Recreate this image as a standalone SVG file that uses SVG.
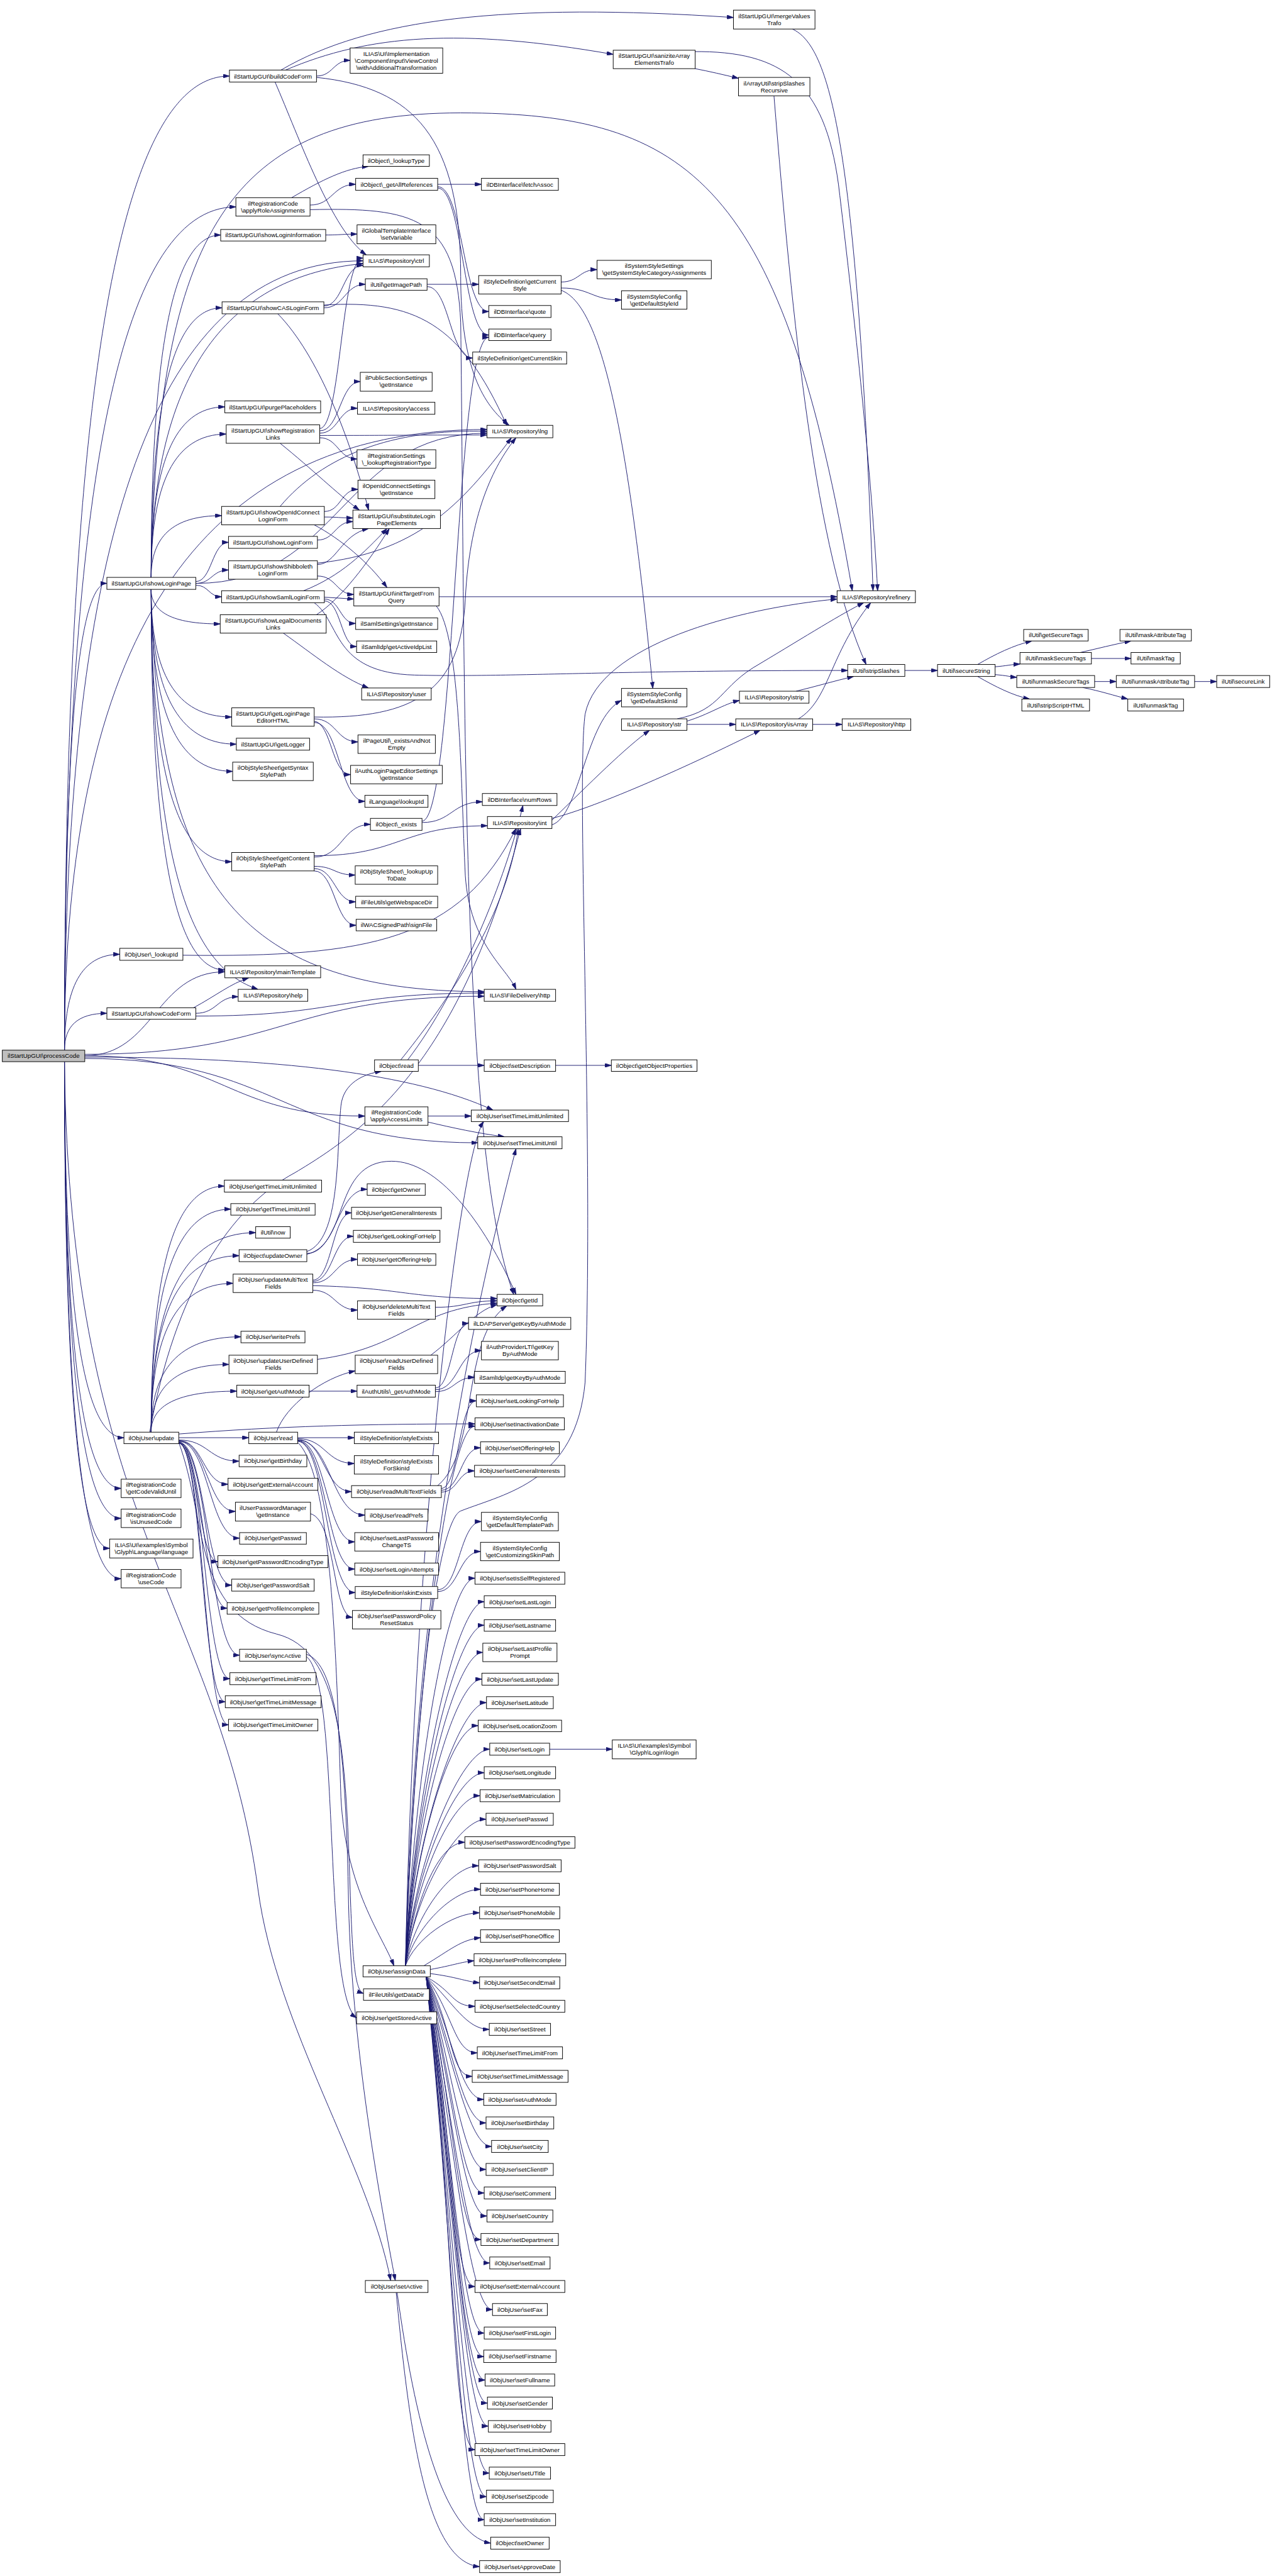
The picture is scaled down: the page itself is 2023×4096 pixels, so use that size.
<svg xmlns="http://www.w3.org/2000/svg" width="2023" height="4096" viewBox="0 0 2023 4096">
<style>
.node rect{fill:#ffffff;stroke:#000000;stroke-width:1.3}
.node rect.root{fill:#bfbfbf}
.node text{font-family:"Liberation Sans",Arial,Helvetica,sans-serif;font-size:13.3px;fill:#000000;text-anchor:middle}
.edges path{fill:none;stroke:#191970;stroke-width:1.3;marker-end:url(#ah)}
</style>
<defs>
<marker id="ah" viewBox="0 0 14 9" refX="14" refY="4.5" markerWidth="14" markerHeight="9" markerUnits="userSpaceOnUse" orient="auto"><path d="M0,0 L14,4.5 L0,9 z" fill="#191970" stroke="#191970" stroke-width="1"/></marker>
</defs>
<rect x="0" y="0" width="2023" height="4096" fill="#ffffff"/>
<g transform="scale(0.7327)">
<g id="edges" class="edges">
<!-- processCode -->
<path d="M140,2279 C140,1621 168,1266 232,1266"/>
<path d="M140,2279 C140,2144 176,2071 260,2071"/>
<path d="M140,2279 C140,2227 168,2199 232,2199"/>
<path d="M140,2304 C140,2834 179,3120 269,3120"/>
<path d="M140,2304 C140,2906 177,3230 263,3230"/>
<path d="M140,2304 C140,2948 177,3295 263,3295"/>
<path d="M140,2304 C140,2990 169,3360 238,3360"/>
<path d="M140,2304 C140,3033 177,3426 263,3426"/>
<path d="M140,2279 C140,905 247,165 498,165"/>
<path d="M140,2279 C140,1089 252,449 512,449"/>
<path d="M184,2291 C488,2291 488,2422 792,2422"/>
<path d="M140,2279 C140,1166 334,566 788,566"/>
<path d="M140,2279 C140,1407 415,932 1057,932"/>
<path d="M184,2291 C336,2291 336,2109 488,2109"/>
<path d="M184,2288 C617,2288 617,2162 1051,2162"/>
<path d="M184,2294 C600,2294 900,2330 1070,2409"/>
<path d="M184,2297 C610,2297 610,2480 1037,2480"/>
<path d="M140,2304 C150,3300 480,3500 560,4100 C600,4400 800,4700 848,4949"/>
<!-- showCodeForm -->
<path d="M420,2187 C470,2160 500,2135 540,2122"/>
<path d="M425,2199 C471,2199 471,2163 517,2163"/>
<path d="M425,2205 C738,2205 738,2155 1051,2155"/>
<!-- showLoginPage -->
<path d="M328,1253 C328,770 373,510 479,510"/>
<path d="M328,1253 C328,873 374,668 482,668"/>
<path d="M328,1253 C328,1013 376,883 488,883"/>
<path d="M328,1253 C328,1051 377,942 491,942"/>
<path d="M328,1253 C328,1166 374,1119 481,1119"/>
<path d="M425,1262 C460,1262 460,1177 496,1177"/>
<path d="M425,1266 C460,1266 460,1237 496,1237"/>
<path d="M425,1270 C453,1270 453,1295 481,1295"/>
<path d="M328,1279 C328,1328 373,1354 478,1354"/>
<path d="M328,1279 C328,1459 380,1556 503,1556"/>
<path d="M328,1279 C328,1497 384,1615 513,1615"/>
<path d="M328,1279 C328,1536 381,1674 505,1674"/>
<path d="M328,1279 C328,1663 380,1870 503,1870"/>
<path d="M328,1279 C328,1818 376,2105 488,2105"/>
<path d="M328,1279 C330,1900 420,2100 560,2147"/>
<path d="M328,1279 C340,1900 500,2152 1051,2152"/>
<path d="M328,1253 C330,800 500,600 788,572"/>
<path d="M328,1253 C340,500 500,245 1000,245 C1500,245 1700,400 1850,1282"/>
<path d="M425,1266 C741,1266 741,940 1057,940"/>
<!-- buildCodeForm -->
<path d="M687,165 C723,165 723,131 760,131"/>
<path d="M610,152 C800,40 1100,5 1592,38"/>
<path d="M620,152 C800,75 1000,60 1331,118"/>
<path d="M597,178 C650,300 720,500 795,553"/>
<path d="M687,168 C900,190 1000,300 1000,600 C1000,800 1050,880 1105,923"/>
<!-- trafos -->
<path d="M1720,63 C1800,100 1860,300 1895,1282"/>
<path d="M1509,149 C1540,155 1570,162 1603,170"/>
<path d="M1505,112 C1700,110 1790,180 1820,400 C1850,650 1890,1000 1905,1282"/>
<path d="M1680,208 C1720,700 1770,1200 1880,1442"/>
<!-- applyRoleAssignments -->
<path d="M633,429 C700,390 750,365 800,361"/>
<path d="M673,445 C722,445 722,400 772,400"/>
<path d="M673,455 C900,450 990,470 1000,700 C1010,1500 1000,2500 1115,2809"/>
<!-- _getAllReferences -->
<path d="M950,400 L1045,400"/>
<path d="M950,405 C1005,405 1005,676 1061,676"/>
<path d="M950,408 C1005,408 1005,727 1061,727"/>
<!-- showLoginInformation -->
<path d="M707,510 C740,510 740,508 775,508"/>
<!-- showCASLoginForm -->
<path d="M703,664 C745,664 745,576 788,576"/>
<path d="M703,668 C748,668 748,617 793,617"/>
<path d="M703,662 C900,650 1000,700 1100,923"/>
<path d="M603,681 C690,770 760,950 800,1107"/>
<!-- getImagePath -->
<path d="M927,617 L1039,617"/>
<path d="M927,622 C976,622 976,777 1026,777"/>
<!-- getCurrentStyle -->
<path d="M1218,612 C1257,612 1257,585 1296,585"/>
<path d="M1218,625 C1283,625 1283,651 1349,651"/>
<path d="M1218,630 C1300,660 1360,900 1417,1494"/>
<!-- showRegistrationLinks -->
<path d="M694,935 C738,935 738,828 782,828"/>
<path d="M694,940 C735,940 735,886 776,886"/>
<path d="M694,950 C734,950 734,996 775,996"/>
<path d="M694,930 C740,930 740,560 788,560"/>
<path d="M694,945 C876,945 876,944 1057,944"/>
<path d="M608,962 C680,1020 730,1070 780,1107"/>
<!-- showOpenIdConnectLoginForm -->
<path d="M704,1110 C740,1110 740,1062 777,1062"/>
<path d="M704,1122 C735,1122 735,1124 766,1124"/>
<path d="M682,1139 C740,1170 800,1220 840,1275"/>
<path d="M608,1099 C700,990 850,930 1057,936"/>
<!-- showLoginForm -->
<path d="M689,1172 C727,1172 727,1132 766,1132"/>
<!-- showShibbolethLoginForm -->
<path d="M689,1225 C730,1225 740,1160 800,1147"/>
<path d="M689,1250 C730,1250 730,1290 768,1290"/>
<path d="M689,1222 C900,1200 1000,1100 1110,950"/>
<!-- showSamlLoginForm -->
<path d="M704,1296 L768,1300"/>
<path d="M659,1282 C740,1250 790,1200 840,1147"/>
<path d="M704,1300 C738,1300 738,1353 772,1353"/>
<path d="M704,1304 C740,1304 740,1403 774,1403"/>
<path d="M682,1308 C740,1350 720,1460 900,1465 C1100,1470 1300,1455 1840,1455"/>
<!-- showLegalDocumentsLinks -->
<path d="M687,1334 C740,1300 800,1220 845,1147"/>
<path d="M615,1374 C680,1420 740,1470 800,1493"/>
<!-- initTargetFromQuery -->
<path d="M953,1295 L1817,1295"/>
<path d="M947,1315 C1000,1380 1000,1700 1010,1900 C1020,2050 1100,2100 1120,2147"/>
<!-- getLoginPageEditorHTML -->
<path d="M682,1560 C730,1560 730,1610 777,1610"/>
<path d="M682,1565 C720,1570 720,1681 761,1681"/>
<path d="M682,1568 C737,1568 737,1739 792,1739"/>
<path d="M682,1556 C900,1560 1000,1500 1010,1300 C1020,1100 1080,1000 1120,950"/>
<!-- getContentStylePath -->
<path d="M682,1860 C743,1860 743,1789 804,1789"/>
<path d="M682,1880 C726,1880 726,1899 771,1899"/>
<path d="M682,1885 C727,1885 727,1957 772,1957"/>
<path d="M682,1890 C727,1890 727,2008 773,2008"/>
<path d="M682,1857 C870,1857 870,1792 1058,1792"/>
<!-- _exists -->
<path d="M916,1785 C981,1785 981,1740 1047,1740"/>
<path d="M916,1782 C988,1782 988,732 1061,732"/>
<!-- _lookupId -->
<path d="M397,2073 C800,2078 1000,2040 1120,1798"/>
<!-- ilObject read -->
<path d="M908,2312 L1051,2312"/>
<path d="M870,2300 C950,2200 1100,2000 1125,1798"/>
<path d="M885,2300 C1000,2150 1100,1900 1135,1748"/>
<path d="M1206,2312 L1327,2312"/>
<!-- applyAccessLimits -->
<path d="M929,2422 L1023,2422"/>
<path d="M929,2435 C980,2447 1040,2460 1095,2467"/>
<!-- update -->
<path d="M328,3108 C328,2761 376,2574 487,2574"/>
<path d="M328,3108 C328,2793 380,2624 501,2624"/>
<path d="M328,3108 C328,2827 396,2675 555,2675"/>
<path d="M328,3108 C328,2859 385,2725 519,2725"/>
<path d="M328,3108 C328,2898 381,2785 506,2785"/>
<path d="M328,3108 C328,2973 387,2901 523,2901"/>
<path d="M328,3108 C328,3012 379,2961 497,2961"/>
<path d="M328,3108 C328,3050 384,3019 514,3019"/>
<path d="M388,3120 L540,3120"/>
<path d="M388,3125 C453,3125 453,3171 519,3171"/>
<path d="M388,3126 C441,3126 441,3221 495,3221"/>
<path d="M388,3127 C450,3127 450,3280 511,3280"/>
<path d="M388,3128 C454,3128 454,3338 520,3338"/>
<path d="M388,3129 C430,3129 430,3389 473,3389"/>
<path d="M388,3130 C445,3130 445,3440 503,3440"/>
<path d="M388,3131 C440,3131 440,3490 493,3490"/>
<path d="M388,3132 C454,3132 454,3592 520,3592"/>
<path d="M388,3132 C443,3132 443,3643 499,3643"/>
<path d="M388,3132 C438,3132 438,3693 489,3693"/>
<path d="M388,3132 C442,3132 442,3743 496,3743"/>
<path d="M325,3108 C380,2800 500,2620 640,2545 C800,2450 1000,2300 1130,1798"/>
<path d="M388,3130 C450,3300 420,3500 600,3546 C740,3580 750,3800 760,4100 C765,4250 770,4320 789,4326"/>
<path d="M388,3112 C600,3095 800,3090 1031,3090"/>
<!-- updateOwner -->
<path d="M666,2720 C731,2720 731,2581 797,2581"/>
<path d="M666,2722 C760,2700 720,2520 850,2520 C950,2520 1050,2650 1120,2809"/>
<path d="M666,2716 C740,2690 730,2500 740,2400 C745,2350 790,2330 828,2325"/>
<!-- updateMultiTextFields -->
<path d="M679,2778 C721,2778 721,2632 763,2632"/>
<path d="M679,2781 C723,2781 723,2683 767,2683"/>
<path d="M679,2784 C727,2784 727,2733 776,2733"/>
<path d="M679,2800 C727,2800 727,2843 776,2843"/>
<path d="M679,2790 C880,2795 880,2818 1079,2818"/>
<path d="M945,2837 C1012,2837 1012,2823 1079,2823"/>
<path d="M689,2950 C880,2925 900,2840 1079,2828"/>
<path d="M935,2941 C990,2900 1030,2845 1079,2831"/>
<!-- auth mode -->
<path d="M671,3019 L775,3019"/>
<path d="M945,3012 C981,3012 981,2872 1017,2872"/>
<path d="M945,3016 C995,3016 995,2931 1045,2931"/>
<path d="M945,3020 C987,3020 987,2989 1030,2989"/>
<!-- ilObjUser read -->
<path d="M646,3120 L769,3120"/>
<path d="M646,3122 C707,3122 707,3176 769,3176"/>
<path d="M646,3124 C704,3124 704,3237 763,3237"/>
<path d="M646,3125 C719,3125 719,3288 792,3288"/>
<path d="M646,3126 C708,3126 708,3346 770,3346"/>
<path d="M646,3127 C708,3127 708,3405 770,3405"/>
<path d="M646,3128 C708,3128 708,3456 771,3456"/>
<path d="M600,3108 C620,3050 700,2990 771,2975"/>
<path d="M646,3130 C720,3200 730,3600 740,3900 C750,4100 830,4200 855,4266"/>
<path d="M674,3285 C730,3300 720,3505 765,3510"/>
<!-- readMultiTextFields -->
<path d="M958,3230 C996,3230 996,3040 1034,3040"/>
<path d="M958,3234 C1000,3234 1000,3142 1043,3142"/>
<path d="M958,3238 C994,3238 994,3192 1030,3192"/>
<path d="M950,3224 C1040,3150 1000,2900 1100,2834"/>
<!-- skinExists -->
<path d="M950,3450 C997,3450 997,3302 1045,3302"/>
<path d="M950,3454 C996,3454 996,3367 1043,3367"/>
<!-- syncActive -->
<path d="M665,3595 C740,3650 700,4330 774,4379"/>
<path d="M665,3590 C730,3610 750,3800 756,4100 C760,4435 830,4800 858,4949"/>
<!-- assignData up -->
<path d="M880,4266 C900,3300 1000,2500 1050,2434"/>
<path d="M880,4266 C900,3400 1040,2800 1120,2493"/>
<path d="M880,4266 C900,3678 971,3095 1031,3095"/>
<path d="M880,4266 C900,3845 971,3425 1031,3425"/>
<path d="M880,4266 C900,3871 991,3476 1051,3476"/>
<path d="M880,4266 C900,3897 991,3527 1051,3527"/>
<path d="M880,4266 C900,3926 988,3586 1048,3586"/>
<path d="M880,4266 C900,3955 986,3644 1046,3644"/>
<path d="M880,4266 C900,3981 996,3695 1056,3695"/>
<path d="M880,4266 C900,4006 978,3745 1038,3745"/>
<path d="M880,4266 C900,4031 1003,3796 1063,3796"/>
<path d="M880,4266 C900,4057 991,3847 1051,3847"/>
<path d="M880,4266 C900,4082 982,3897 1042,3897"/>
<path d="M880,4266 C900,4107 995,3948 1055,3948"/>
<path d="M880,4266 C900,4132 949,3998 1009,3998"/>
<path d="M880,4266 C900,4158 979,4049 1039,4049"/>
<path d="M880,4266 C900,4183 983,4100 1043,4100"/>
<path d="M880,4266 C900,4209 981,4151 1041,4151"/>
<path d="M920,4266 C980,4230 1000,4210 1043,4205"/>
<path d="M934,4274 C980,4266 1000,4258 1029,4255"/>
<path d="M934,4283 C990,4290 1010,4300 1041,4303"/>
<!-- assignData down -->
<path d="M925,4290 C985,4322 981,4354 1031,4354"/>
<path d="M925,4290 C985,4347 1012,4404 1062,4404"/>
<path d="M925,4290 C985,4372 986,4455 1036,4455"/>
<path d="M925,4290 C985,4398 975,4506 1025,4506"/>
<path d="M925,4290 C985,4423 1000,4556 1050,4556"/>
<path d="M925,4290 C985,4448 1005,4607 1055,4607"/>
<path d="M925,4290 C985,4474 1017,4658 1067,4658"/>
<path d="M925,4290 C985,4499 1005,4708 1055,4708"/>
<path d="M925,4290 C985,4524 1001,4759 1051,4759"/>
<path d="M925,4290 C985,4550 1007,4809 1057,4809"/>
<path d="M925,4290 C985,4575 994,4860 1044,4860"/>
<path d="M925,4290 C985,4600 1013,4911 1063,4911"/>
<path d="M925,4290 C985,4626 981,4962 1031,4962"/>
<path d="M925,4290 C985,4651 1019,5012 1069,5012"/>
<path d="M925,4290 C985,4676 1001,5063 1051,5063"/>
<path d="M925,4290 C985,4702 1000,5114 1050,5114"/>
<path d="M925,4290 C985,4728 1003,5165 1053,5165"/>
<path d="M925,4290 C985,4752 1008,5215 1058,5215"/>
<path d="M925,4290 C985,4778 1010,5265 1060,5265"/>
<path d="M925,4290 C985,4803 981,5316 1031,5316"/>
<path d="M925,4290 C985,4828 1012,5367 1062,5367"/>
<path d="M925,4290 C985,4854 1006,5418 1056,5418"/>
<path d="M925,4290 C985,4879 1001,5468 1051,5468"/>
<path d="M880,4266 C900,3700 950,3300 1000,3279 C1100,3240 1250,3215 1270,3000 C1290,2500 1250,1700 1270,1550 C1300,1400 1600,1320 1817,1300"/>
<!-- setActive -->
<path d="M862,4975 C900,5250 960,5500 1065,5519"/>
<path d="M860,4975 C890,5300 930,5560 1041,5570"/>
<path d="M1193,3796 L1329,3796"/>
<!-- int / str / isArray -->
<path d="M1198,1780 C1280,1700 1360,1620 1410,1585"/>
<path d="M1198,1776 C1300,1750 1500,1660 1650,1585"/>
<path d="M1198,1790 C1260,1770 1270,1560 1349,1520"/>
<path d="M1491,1565 C1540,1550 1570,1528 1605,1520"/>
<path d="M1491,1572 L1597,1572"/>
<path d="M1470,1560 C1570,1540 1560,1490 1650,1440 C1750,1380 1830,1330 1875,1308"/>
<path d="M1728,1500 C1770,1490 1810,1478 1853,1468"/>
<path d="M1764,1572 L1828,1572"/>
<path d="M1733,1560 C1800,1520 1800,1420 1890,1308"/>
<path d="M1964,1455 L2035,1455"/>
<path d="M2122,1442 C2160,1420 2200,1400 2240,1391"/>
<path d="M2160,1447 C2185,1445 2195,1442 2214,1441"/>
<path d="M2160,1464 C2185,1466 2195,1469 2207,1470"/>
<path d="M2122,1468 C2160,1490 2200,1510 2235,1517"/>
<path d="M2345,1416 C2380,1408 2420,1398 2455,1391"/>
<path d="M2369,1429 L2455,1429"/>
<path d="M2376,1479 L2423,1479"/>
<path d="M2350,1492 C2390,1500 2420,1510 2448,1517"/>
<path d="M2593,1479 L2641,1479"/>
</g>

<!-- NODES -->
<g id="n_processCode" class="node"><rect class="root" x="5" y="2279" width="179" height="25"/><text x="94.5" y="2296">ilStartUpGUI\processCode</text></g>
<g id="n_showLoginPage" class="node"><rect x="232" y="1253" width="193" height="26"/><text x="328.5" y="1271">ilStartUpGUI\showLoginPage</text></g>
<g id="n_lookupIdUser" class="node"><rect x="260" y="2058" width="137" height="26"/><text x="328.5" y="2076">ilObjUser\_lookupId</text></g>
<g id="n_showCodeForm" class="node"><rect x="232" y="2187" width="193" height="25"/><text x="328.5" y="2204">ilStartUpGUI\showCodeForm</text></g>
<g id="n_update" class="node"><rect x="269" y="3108" width="119" height="25"/><text x="328.5" y="3125">ilObjUser\update</text></g>
<g id="n_getCodeValidUntil" class="node"><rect x="263" y="3210" width="130" height="40"/><text x="328"><tspan x="328" y="3227">ilRegistrationCode</tspan><tspan x="328" y="3242">\getCodeValidUntil</tspan></text></g>
<g id="n_isUnusedCode" class="node"><rect x="263" y="3275" width="130" height="40"/><text x="328"><tspan x="328" y="3292">ilRegistrationCode</tspan><tspan x="328" y="3307">\isUnusedCode</tspan></text></g>
<g id="n_language" class="node"><rect x="238" y="3340" width="181" height="41"/><text x="328.5"><tspan x="328.5" y="3357">ILIAS\UI\examples\Symbol</tspan><tspan x="328.5" y="3372">\Glyph\Language\language</tspan></text></g>
<g id="n_useCode" class="node"><rect x="263" y="3406" width="130" height="40"/><text x="328"><tspan x="328" y="3423">ilRegistrationCode</tspan><tspan x="328" y="3438">\useCode</tspan></text></g>

<g id="n_buildCodeForm" class="node"><rect x="498" y="152" width="189" height="26"/><text x="592.5" y="170">ilStartUpGUI\buildCodeForm</text></g>
<g id="n_applyRoleAssignments" class="node"><rect x="512" y="429" width="161" height="40"/><text x="592.5"><tspan x="592.5" y="446">ilRegistrationCode</tspan><tspan x="592.5" y="461">\applyRoleAssignments</tspan></text></g>
<g id="n_showLoginInformation" class="node"><rect x="479" y="498" width="228" height="25"/><text x="593" y="515">ilStartUpGUI\showLoginInformation</text></g>
<g id="n_showCASLoginForm" class="node"><rect x="482" y="655" width="221" height="26"/><text x="592.5" y="673">ilStartUpGUI\showCASLoginForm</text></g>
<g id="n_purgePlaceholders" class="node"><rect x="488" y="870" width="208" height="26"/><text x="592" y="888">ilStartUpGUI\purgePlaceholders</text></g>
<g id="n_showRegistrationLinks" class="node"><rect x="491" y="922" width="203" height="40"/><text x="592.5"><tspan x="592.5" y="939">ilStartUpGUI\showRegistration</tspan><tspan x="592.5" y="954">Links</tspan></text></g>
<g id="n_showOpenIdConnectLoginForm" class="node"><rect x="481" y="1099" width="223" height="40"/><text x="592.5"><tspan x="592.5" y="1116">ilStartUpGUI\showOpenIdConnect</tspan><tspan x="592.5" y="1131">LoginForm</tspan></text></g>
<g id="n_showLoginForm" class="node"><rect x="496" y="1164" width="193" height="26"/><text x="592.5" y="1182">ilStartUpGUI\showLoginForm</text></g>
<g id="n_showShibbolethLoginForm" class="node"><rect x="496" y="1217" width="193" height="40"/><text x="592.5"><tspan x="592.5" y="1234">ilStartUpGUI\showShibboleth</tspan><tspan x="592.5" y="1249">LoginForm</tspan></text></g>
<g id="n_showSamlLoginForm" class="node"><rect x="481" y="1282" width="223" height="26"/><text x="592.5" y="1300">ilStartUpGUI\showSamlLoginForm</text></g>
<g id="n_showLegalDocumentsLinks" class="node"><rect x="478" y="1334" width="230" height="40"/><text x="593"><tspan x="593" y="1351">ilStartUpGUI\showLegalDocuments</tspan><tspan x="593" y="1366">Links</tspan></text></g>
<g id="n_getLoginPageEditorHTML" class="node"><rect x="503" y="1536" width="179" height="40"/><text x="592.5"><tspan x="592.5" y="1553">ilStartUpGUI\getLoginPage</tspan><tspan x="592.5" y="1568">EditorHTML</tspan></text></g>
<g id="n_getLogger" class="node"><rect x="513" y="1602" width="159" height="26"/><text x="592.5" y="1620">ilStartUpGUI\getLogger</text></g>
<g id="n_getSyntaxStylePath" class="node"><rect x="505" y="1654" width="175" height="40"/><text x="592.5"><tspan x="592.5" y="1671">ilObjStyleSheet\getSyntax</tspan><tspan x="592.5" y="1686">StylePath</tspan></text></g>
<g id="n_getContentStylePath" class="node"><rect x="503" y="1850" width="179" height="40"/><text x="592.5"><tspan x="592.5" y="1867">ilObjStyleSheet\getContent</tspan><tspan x="592.5" y="1882">StylePath</tspan></text></g>
<g id="n_mainTemplate" class="node"><rect x="488" y="2096" width="208" height="26"/><text x="592" y="2114">ILIAS\Repository\mainTemplate</text></g>
<g id="n_help" class="node"><rect x="517" y="2147" width="151" height="26"/><text x="592.5" y="2165">ILIAS\Repository\help</text></g>
<g id="n_getTimeLimitUnlimited" class="node"><rect x="487" y="2561" width="211" height="26"/><text x="592.5" y="2579">ilObjUser\getTimeLimitUnlimited</text></g>
<g id="n_getTimeLimitUntil" class="node"><rect x="501" y="2612" width="183" height="25"/><text x="592.5" y="2629">ilObjUser\getTimeLimitUntil</text></g>
<g id="n_now" class="node"><rect x="555" y="2662" width="75" height="25"/><text x="592.5" y="2679">ilUtil\now</text></g>
<g id="n_updateOwner" class="node"><rect x="519" y="2712" width="147" height="26"/><text x="592.5" y="2730">ilObject\updateOwner</text></g>
<g id="n_updateMultiTextFields" class="node"><rect x="506" y="2765" width="173" height="40"/><text x="592.5"><tspan x="592.5" y="2782">ilObjUser\updateMultiText</tspan><tspan x="592.5" y="2797">Fields</tspan></text></g>
<g id="n_writePrefs" class="node"><rect x="523" y="2889" width="139" height="25"/><text x="592.5" y="2906">ilObjUser\writePrefs</text></g>
<g id="n_updateUserDefinedFields" class="node"><rect x="497" y="2941" width="192" height="40"/><text x="593"><tspan x="593" y="2958">ilObjUser\updateUserDefined</tspan><tspan x="593" y="2973">Fields</tspan></text></g>
<g id="n_getAuthMode" class="node"><rect x="514" y="3006" width="157" height="26"/><text x="592.5" y="3024">ilObjUser\getAuthMode</text></g>
<g id="n_readUser" class="node"><rect x="540" y="3108" width="106" height="25"/><text x="593" y="3125">ilObjUser\read</text></g>
<g id="n_getBirthday" class="node"><rect x="519" y="3158" width="147" height="25"/><text x="592.5" y="3175">ilObjUser\getBirthday</text></g>
<g id="n_getExternalAccount" class="node"><rect x="495" y="3208" width="195" height="26"/><text x="592.5" y="3226">ilObjUser\getExternalAccount</text></g>
<g id="n_upmGetInstance" class="node"><rect x="511" y="3260" width="163" height="41"/><text x="592.5"><tspan x="592.5" y="3277">ilUserPasswordManager</tspan><tspan x="592.5" y="3292">\getInstance</tspan></text></g>
<g id="n_getPasswd" class="node"><rect x="520" y="3326" width="145" height="25"/><text x="592.5" y="3343">ilObjUser\getPasswd</text></g>
<g id="n_getPasswordEncodingType" class="node"><rect x="473" y="3376" width="239" height="26"/><text x="592.5" y="3394">ilObjUser\getPasswordEncodingType</text></g>
<g id="n_getPasswordSalt" class="node"><rect x="503" y="3427" width="179" height="26"/><text x="592.5" y="3445">ilObjUser\getPasswordSalt</text></g>
<g id="n_getProfileIncomplete" class="node"><rect x="493" y="3478" width="199" height="25"/><text x="592.5" y="3495">ilObjUser\getProfileIncomplete</text></g>
<g id="n_syncActive" class="node"><rect x="520" y="3579" width="145" height="26"/><text x="592.5" y="3597">ilObjUser\syncActive</text></g>
<g id="n_getTimeLimitFrom" class="node"><rect x="499" y="3630" width="187" height="26"/><text x="592.5" y="3648">ilObjUser\getTimeLimitFrom</text></g>
<g id="n_getTimeLimitMessage" class="node"><rect x="489" y="3680" width="208" height="26"/><text x="593" y="3698">ilObjUser\getTimeLimitMessage</text></g>
<g id="n_getTimeLimitOwner" class="node"><rect x="496" y="3731" width="194" height="25"/><text x="593" y="3748">ilObjUser\getTimeLimitOwner</text></g>

<g id="n_withAdditionalTransformation" class="node"><rect x="760" y="104" width="201" height="55"/><text x="860.5"><tspan x="860.5" y="121">ILIAS\UI\Implementation</tspan><tspan x="860.5" y="136">\Component\Input\ViewControl</tspan><tspan x="860.5" y="151">\withAdditionalTransformation</tspan></text></g>
<g id="n_lookupType" class="node"><rect x="788" y="336" width="144" height="25"/><text x="860" y="353">ilObject\_lookupType</text></g>
<g id="n_getAllReferences" class="node"><rect x="772" y="387" width="178" height="26"/><text x="861" y="405">ilObject\_getAllReferences</text></g>
<g id="n_setVariable" class="node"><rect x="775" y="488" width="171" height="41"/><text x="860.5"><tspan x="860.5" y="505">ilGlobalTemplateInterface</tspan><tspan x="860.5" y="520">\setVariable</tspan></text></g>
<g id="n_ctrl" class="node"><rect x="788" y="553" width="144" height="26"/><text x="860" y="571">ILIAS\Repository\ctrl</text></g>
<g id="n_getImagePath" class="node"><rect x="793" y="605" width="134" height="25"/><text x="860" y="622">ilUtil\getImagePath</text></g>
<g id="n_pssGetInstance" class="node"><rect x="782" y="808" width="156" height="41"/><text x="860"><tspan x="860" y="825">ilPublicSectionSettings</tspan><tspan x="860" y="840">\getInstance</tspan></text></g>
<g id="n_access" class="node"><rect x="776" y="873" width="168" height="26"/><text x="860" y="891">ILIAS\Repository\access</text></g>
<g id="n_lookupRegistrationType" class="node"><rect x="775" y="976" width="171" height="40"/><text x="860.5"><tspan x="860.5" y="993">ilRegistrationSettings</tspan><tspan x="860.5" y="1008">\_lookupRegistrationType</tspan></text></g>
<g id="n_oidcGetInstance" class="node"><rect x="777" y="1042" width="167" height="40"/><text x="860.5"><tspan x="860.5" y="1059">ilOpenIdConnectSettings</tspan><tspan x="860.5" y="1074">\getInstance</tspan></text></g>
<g id="n_substituteLoginPageElements" class="node"><rect x="766" y="1107" width="190" height="40"/><text x="861"><tspan x="861" y="1124">ilStartUpGUI\substituteLogin</tspan><tspan x="861" y="1139">PageElements</tspan></text></g>
<g id="n_initTargetFromQuery" class="node"><rect x="768" y="1275" width="185" height="40"/><text x="860.5"><tspan x="860.5" y="1292">ilStartUpGUI\initTargetFrom</tspan><tspan x="860.5" y="1307">Query</tspan></text></g>
<g id="n_samlSettings" class="node"><rect x="772" y="1341" width="178" height="25"/><text x="861" y="1358">ilSamlSettings\getInstance</text></g>
<g id="n_getActiveIdpList" class="node"><rect x="774" y="1391" width="174" height="25"/><text x="861" y="1408">ilSamlIdp\getActiveIdpList</text></g>
<g id="n_user" class="node"><rect x="785" y="1493" width="151" height="26"/><text x="860.5" y="1511">ILIAS\Repository\user</text></g>
<g id="n_existsAndNotEmpty" class="node"><rect x="777" y="1595" width="168" height="40"/><text x="861"><tspan x="861" y="1612">ilPageUtil\_existsAndNot</tspan><tspan x="861" y="1627">Empty</tspan></text></g>
<g id="n_alpesGetInstance" class="node"><rect x="761" y="1661" width="199" height="40"/><text x="860.5"><tspan x="860.5" y="1678">ilAuthLoginPageEditorSettings</tspan><tspan x="860.5" y="1693">\getInstance</tspan></text></g>
<g id="n_langLookupId" class="node"><rect x="792" y="1726" width="137" height="26"/><text x="860.5" y="1744">ilLanguage\lookupId</text></g>
<g id="n_exists" class="node"><rect x="804" y="1776" width="112" height="26"/><text x="860" y="1794">ilObject\_exists</text></g>
<g id="n_lookupUpToDate" class="node"><rect x="771" y="1879" width="179" height="40"/><text x="860.5"><tspan x="860.5" y="1896">ilObjStyleSheet\_lookupUp</tspan><tspan x="860.5" y="1911">ToDate</tspan></text></g>
<g id="n_getWebspaceDir" class="node"><rect x="772" y="1945" width="178" height="25"/><text x="861" y="1962">ilFileUtils\getWebspaceDir</text></g>
<g id="n_signFile" class="node"><rect x="773" y="1995" width="175" height="25"/><text x="860.5" y="2012">ilWACSignedPath\signFile</text></g>
<g id="n_objectRead" class="node"><rect x="813" y="2300" width="95" height="25"/><text x="860.5" y="2317">ilObject\read</text></g>
<g id="n_applyAccessLimits" class="node"><rect x="792" y="2402" width="137" height="40"/><text x="860.5"><tspan x="860.5" y="2419">ilRegistrationCode</tspan><tspan x="860.5" y="2434">\applyAccessLimits</tspan></text></g>
<g id="n_getOwner" class="node"><rect x="797" y="2569" width="126" height="25"/><text x="860" y="2586">ilObject\getOwner</text></g>
<g id="n_getGeneralInterests" class="node"><rect x="763" y="2620" width="195" height="25"/><text x="860.5" y="2637">ilObjUser\getGeneralInterests</text></g>
<g id="n_getLookingForHelp" class="node"><rect x="767" y="2670" width="188" height="26"/><text x="861" y="2688">ilObjUser\getLookingForHelp</text></g>
<g id="n_getOfferingHelp" class="node"><rect x="776" y="2721" width="170" height="25"/><text x="861" y="2738">ilObjUser\getOfferingHelp</text></g>
<g id="n_deleteMultiTextFields" class="node"><rect x="776" y="2823" width="169" height="40"/><text x="860.5"><tspan x="860.5" y="2840">ilObjUser\deleteMultiText</tspan><tspan x="860.5" y="2855">Fields</tspan></text></g>
<g id="n_readUserDefinedFields" class="node"><rect x="771" y="2941" width="179" height="40"/><text x="860.5"><tspan x="860.5" y="2958">ilObjUser\readUserDefined</tspan><tspan x="860.5" y="2973">Fields</tspan></text></g>
<g id="n_authUtilsGetAuthMode" class="node"><rect x="775" y="3006" width="170" height="26"/><text x="860" y="3024">ilAuthUtils\_getAuthMode</text></g>
<g id="n_styleExists" class="node"><rect x="769" y="3108" width="183" height="25"/><text x="860.5" y="3125">ilStyleDefinition\styleExists</text></g>
<g id="n_styleExistsForSkinId" class="node"><rect x="769" y="3159" width="183" height="40"/><text x="860.5"><tspan x="860.5" y="3176">ilStyleDefinition\styleExists</tspan><tspan x="860.5" y="3191">ForSkinId</tspan></text></g>
<g id="n_readMultiTextFields" class="node"><rect x="763" y="3224" width="195" height="26"/><text x="860.5" y="3242">ilObjUser\readMultiTextFields</text></g>
<g id="n_readPrefs" class="node"><rect x="792" y="3275" width="137" height="26"/><text x="860.5" y="3293">ilObjUser\readPrefs</text></g>
<g id="n_setLastPasswordChangeTS" class="node"><rect x="770" y="3326" width="182" height="40"/><text x="861"><tspan x="861" y="3343">ilObjUser\setLastPassword</tspan><tspan x="861" y="3358">ChangeTS</tspan></text></g>
<g id="n_setLoginAttempts" class="node"><rect x="770" y="3392" width="182" height="26"/><text x="861" y="3410">ilObjUser\setLoginAttempts</text></g>
<g id="n_skinExists" class="node"><rect x="771" y="3443" width="179" height="26"/><text x="860.5" y="3461">ilStyleDefinition\skinExists</text></g>
<g id="n_setPasswordPolicyResetStatus" class="node"><rect x="765" y="3495" width="192" height="40"/><text x="861"><tspan x="861" y="3512">ilObjUser\setPasswordPolicy</tspan><tspan x="861" y="3527">ResetStatus</tspan></text></g>
<g id="n_assignData" class="node"><rect x="788" y="4266" width="146" height="24"/><text x="861" y="4283">ilObjUser\assignData</text></g>
<g id="n_getDataDir" class="node"><rect x="789" y="4316" width="143" height="25"/><text x="860.5" y="4333">ilFileUtils\getDataDir</text></g>
<g id="n_getStoredActive" class="node"><rect x="774" y="4366" width="174" height="26"/><text x="861" y="4384">ilObjUser\getStoredActive</text></g>
<g id="n_setActive" class="node"><rect x="793" y="4949" width="136" height="26"/><text x="861" y="4967">ilObjUser\setActive</text></g>

<g id="n_fetchAssoc" class="node"><rect x="1045" y="387" width="167" height="26"/><text x="1128.5" y="405">ilDBInterface\fetchAssoc</text></g>
<g id="n_getCurrentStyle" class="node"><rect x="1039" y="598" width="179" height="40"/><text x="1128.5"><tspan x="1128.5" y="615">ilStyleDefinition\getCurrent</tspan><tspan x="1128.5" y="630">Style</tspan></text></g>
<g id="n_quote" class="node"><rect x="1061" y="663" width="135" height="26"/><text x="1128.5" y="681">ilDBInterface\quote</text></g>
<g id="n_query" class="node"><rect x="1061" y="714" width="135" height="25"/><text x="1128.5" y="731">ilDBInterface\query</text></g>
<g id="n_getCurrentSkin" class="node"><rect x="1026" y="764" width="204" height="26"/><text x="1128" y="782">ilStyleDefinition\getCurrentSkin</text></g>
<g id="n_lng" class="node"><rect x="1057" y="923" width="143" height="27"/><text x="1128.5" y="941">ILIAS\Repository\lng</text></g>
<g id="n_numRows" class="node"><rect x="1047" y="1722" width="162" height="26"/><text x="1128" y="1740">ilDBInterface\numRows</text></g>
<g id="n_int" class="node"><rect x="1058" y="1772" width="140" height="26"/><text x="1128" y="1790">ILIAS\Repository\int</text></g>
<g id="n_fdHttp" class="node"><rect x="1051" y="2147" width="155" height="26"/><text x="1128.5" y="2165">ILIAS\FileDelivery\http</text></g>
<g id="n_setDescription" class="node"><rect x="1051" y="2300" width="155" height="25"/><text x="1128.5" y="2317">ilObject\setDescription</text></g>
<g id="n_setTimeLimitUnlimited" class="node"><rect x="1023" y="2409" width="211" height="25"/><text x="1128.5" y="2426">ilObjUser\setTimeLimitUnlimited</text></g>
<g id="n_setTimeLimitUntil" class="node"><rect x="1037" y="2467" width="183" height="26"/><text x="1128.5" y="2485">ilObjUser\setTimeLimitUntil</text></g>
<g id="n_getId" class="node"><rect x="1079" y="2809" width="99" height="25"/><text x="1128.5" y="2826">ilObject\getId</text></g>
<g id="n_ldap" class="node"><rect x="1017" y="2859" width="222" height="26"/><text x="1128" y="2877">ilLDAPServer\getKeyByAuthMode</text></g>
<g id="n_lti" class="node"><rect x="1045" y="2911" width="167" height="40"/><text x="1128.5"><tspan x="1128.5" y="2928">ilAuthProviderLTI\getKey</tspan><tspan x="1128.5" y="2943">ByAuthMode</tspan></text></g>
<g id="n_samlIdpKey" class="node"><rect x="1030" y="2976" width="197" height="26"/><text x="1128.5" y="2994">ilSamlIdp\getKeyByAuthMode</text></g>
<g id="n_setLookingForHelp" class="node"><rect x="1034" y="3027" width="189" height="26"/><text x="1128.5" y="3045">ilObjUser\setLookingForHelp</text></g>
<g id="n_setInactivationDate" class="node"><rect x="1031" y="3077" width="194" height="26"/><text x="1128" y="3095">ilObjUser\setInactivationDate</text></g>
<g id="n_setOfferingHelp" class="node"><rect x="1043" y="3129" width="171" height="26"/><text x="1128.5" y="3147">ilObjUser\setOfferingHelp</text></g>
<g id="n_setGeneralInterests" class="node"><rect x="1030" y="3180" width="196" height="25"/><text x="1128" y="3197">ilObjUser\setGeneralInterests</text></g>
<g id="n_getDefaultTemplatePath" class="node"><rect x="1045" y="3282" width="167" height="40"/><text x="1128.5"><tspan x="1128.5" y="3299">ilSystemStyleConfig</tspan><tspan x="1128.5" y="3314">\getDefaultTemplatePath</tspan></text></g>
<g id="n_getCustomizingSkinPath" class="node"><rect x="1043" y="3347" width="171" height="40"/><text x="1128.5"><tspan x="1128.5" y="3364">ilSystemStyleConfig</tspan><tspan x="1128.5" y="3379">\getCustomizingSkinPath</tspan></text></g>
<g id="n_setIsSelfRegistered" class="node"><rect x="1031" y="3412" width="195" height="26"/><text x="1128.5" y="3430">ilObjUser\setIsSelfRegistered</text></g>
<g id="n_setLastLogin" class="node"><rect x="1051" y="3463" width="155" height="26"/><text x="1128.5" y="3481">ilObjUser\setLastLogin</text></g>
<g id="n_setLastname" class="node"><rect x="1051" y="3515" width="155" height="25"/><text x="1128.5" y="3532">ilObjUser\setLastname</text></g>
<g id="n_setLastProfilePrompt" class="node"><rect x="1048" y="3566" width="161" height="40"/><text x="1128.5"><tspan x="1128.5" y="3583">ilObjUser\setLastProfile</tspan><tspan x="1128.5" y="3598">Prompt</tspan></text></g>
<g id="n_setLastUpdate" class="node"><rect x="1046" y="3631" width="166" height="26"/><text x="1129" y="3649">ilObjUser\setLastUpdate</text></g>
<g id="n_setLatitude" class="node"><rect x="1056" y="3682" width="145" height="26"/><text x="1128.5" y="3700">ilObjUser\setLatitude</text></g>
<g id="n_setLocationZoom" class="node"><rect x="1038" y="3733" width="181" height="25"/><text x="1128.5" y="3750">ilObjUser\setLocationZoom</text></g>
<g id="n_setLogin" class="node"><rect x="1063" y="3783" width="130" height="26"/><text x="1128" y="3801">ilObjUser\setLogin</text></g>
<g id="n_setLongitude" class="node"><rect x="1051" y="3834" width="155" height="26"/><text x="1128.5" y="3852">ilObjUser\setLongitude</text></g>
<g id="n_setMatriculation" class="node"><rect x="1042" y="3884" width="173" height="26"/><text x="1128.5" y="3902">ilObjUser\setMatriculation</text></g>
<g id="n_setPasswd" class="node"><rect x="1055" y="3935" width="146" height="26"/><text x="1128" y="3953">ilObjUser\setPasswd</text></g>
<g id="n_setPasswordEncodingType" class="node"><rect x="1009" y="3986" width="239" height="25"/><text x="1128.5" y="4003">ilObjUser\setPasswordEncodingType</text></g>
<g id="n_setPasswordSalt" class="node"><rect x="1039" y="4036" width="179" height="26"/><text x="1128.5" y="4054">ilObjUser\setPasswordSalt</text></g>
<g id="n_setPhoneHome" class="node"><rect x="1043" y="4087" width="171" height="26"/><text x="1128.5" y="4105">ilObjUser\setPhoneHome</text></g>
<g id="n_setPhoneMobile" class="node"><rect x="1041" y="4138" width="174" height="26"/><text x="1128" y="4156">ilObjUser\setPhoneMobile</text></g>
<g id="n_setPhoneOffice" class="node"><rect x="1043" y="4188" width="171" height="27"/><text x="1128.5" y="4206">ilObjUser\setPhoneOffice</text></g>
<g id="n_setProfileIncomplete" class="node"><rect x="1029" y="4240" width="199" height="26"/><text x="1128.5" y="4258">ilObjUser\setProfileIncomplete</text></g>
<g id="n_setSecondEmail" class="node"><rect x="1041" y="4290" width="174" height="26"/><text x="1128" y="4308">ilObjUser\setSecondEmail</text></g>
<g id="n_setSelectedCountry" class="node"><rect x="1031" y="4341" width="195" height="26"/><text x="1128.5" y="4359">ilObjUser\setSelectedCountry</text></g>
<g id="n_setStreet" class="node"><rect x="1062" y="4391" width="133" height="26"/><text x="1128.5" y="4409">ilObjUser\setStreet</text></g>
<g id="n_setTimeLimitFrom" class="node"><rect x="1036" y="4442" width="185" height="26"/><text x="1128.5" y="4460">ilObjUser\setTimeLimitFrom</text></g>
<g id="n_setTimeLimitMessage" class="node"><rect x="1025" y="4493" width="208" height="26"/><text x="1129" y="4511">ilObjUser\setTimeLimitMessage</text></g>
<g id="n_setAuthMode" class="node"><rect x="1050" y="4543" width="157" height="26"/><text x="1128.5" y="4561">ilObjUser\setAuthMode</text></g>
<g id="n_setBirthday" class="node"><rect x="1055" y="4594" width="147" height="26"/><text x="1128.5" y="4612">ilObjUser\setBirthday</text></g>
<g id="n_setCity" class="node"><rect x="1067" y="4645" width="123" height="26"/><text x="1128.5" y="4663">ilObjUser\setCity</text></g>
<g id="n_setClientIP" class="node"><rect x="1055" y="4695" width="146" height="26"/><text x="1128" y="4713">ilObjUser\setClientIP</text></g>
<g id="n_setComment" class="node"><rect x="1051" y="4746" width="155" height="26"/><text x="1128.5" y="4764">ilObjUser\setComment</text></g>
<g id="n_setCountry" class="node"><rect x="1057" y="4796" width="143" height="26"/><text x="1128.5" y="4814">ilObjUser\setCountry</text></g>
<g id="n_setDepartment" class="node"><rect x="1044" y="4847" width="168" height="26"/><text x="1128" y="4865">ilObjUser\setDepartment</text></g>
<g id="n_setEmail" class="node"><rect x="1063" y="4898" width="131" height="26"/><text x="1128.5" y="4916">ilObjUser\setEmail</text></g>
<g id="n_setExternalAccount" class="node"><rect x="1031" y="4949" width="195" height="26"/><text x="1128.5" y="4967">ilObjUser\setExternalAccount</text></g>
<g id="n_setFax" class="node"><rect x="1069" y="4999" width="119" height="26"/><text x="1128.5" y="5017">ilObjUser\setFax</text></g>
<g id="n_setFirstLogin" class="node"><rect x="1051" y="5050" width="155" height="26"/><text x="1128.5" y="5068">ilObjUser\setFirstLogin</text></g>
<g id="n_setFirstname" class="node"><rect x="1050" y="5100" width="157" height="27"/><text x="1128.5" y="5118">ilObjUser\setFirstname</text></g>
<g id="n_setFullname" class="node"><rect x="1053" y="5152" width="151" height="26"/><text x="1128.5" y="5170">ilObjUser\setFullname</text></g>
<g id="n_setGender" class="node"><rect x="1058" y="5202" width="141" height="26"/><text x="1128.5" y="5220">ilObjUser\setGender</text></g>
<g id="n_setHobby" class="node"><rect x="1060" y="5253" width="136" height="25"/><text x="1128" y="5270">ilObjUser\setHobby</text></g>
<g id="n_setTimeLimitOwner" class="node"><rect x="1031" y="5303" width="195" height="26"/><text x="1128.5" y="5321">ilObjUser\setTimeLimitOwner</text></g>
<g id="n_setUTitle" class="node"><rect x="1062" y="5354" width="133" height="26"/><text x="1128.5" y="5372">ilObjUser\setUTitle</text></g>
<g id="n_setZipcode" class="node"><rect x="1056" y="5404" width="145" height="27"/><text x="1128.5" y="5422">ilObjUser\setZipcode</text></g>
<g id="n_setInstitution" class="node"><rect x="1051" y="5455" width="155" height="26"/><text x="1128.5" y="5473">ilObjUser\setInstitution</text></g>
<g id="n_setOwner" class="node"><rect x="1065" y="5506" width="127" height="26"/><text x="1128.5" y="5524">ilObject\setOwner</text></g>
<g id="n_setApproveDate" class="node"><rect x="1041" y="5557" width="175" height="26"/><text x="1128.5" y="5575">ilObjUser\setApproveDate</text></g>

<g id="n_saniziteArrayElementsTrafo" class="node"><rect x="1331" y="109" width="178" height="40"/><text x="1420"><tspan x="1420" y="126">ilStartUpGUI\saniziteArray</tspan><tspan x="1420" y="141">ElementsTrafo</tspan></text></g>
<g id="n_getSystemStyleCategoryAssignments" class="node"><rect x="1296" y="565" width="248" height="40"/><text x="1420"><tspan x="1420" y="582">ilSystemStyleSettings</tspan><tspan x="1420" y="597">\getSystemStyleCategoryAssignments</tspan></text></g>
<g id="n_getDefaultStyleId" class="node"><rect x="1349" y="631" width="142" height="40"/><text x="1420"><tspan x="1420" y="648">ilSystemStyleConfig</tspan><tspan x="1420" y="663">\getDefaultStyleId</tspan></text></g>
<g id="n_getDefaultSkinId" class="node"><rect x="1349" y="1494" width="142" height="40"/><text x="1420"><tspan x="1420" y="1511">ilSystemStyleConfig</tspan><tspan x="1420" y="1526">\getDefaultSkinId</tspan></text></g>
<g id="n_str" class="node"><rect x="1349" y="1560" width="142" height="25"/><text x="1420" y="1577">ILIAS\Repository\str</text></g>
<g id="n_getObjectProperties" class="node"><rect x="1327" y="2300" width="186" height="25"/><text x="1420" y="2317">ilObject\getObjectProperties</text></g>
<g id="n_login" class="node"><rect x="1329" y="3776" width="182" height="41"/><text x="1420"><tspan x="1420" y="3793">ILIAS\UI\examples\Symbol</tspan><tspan x="1420" y="3808">\Glyph\Login\login</tspan></text></g>

<g id="n_mergeValuesTrafo" class="node"><rect x="1592" y="22" width="177" height="41"/><text x="1680.5"><tspan x="1680.5" y="39">ilStartUpGUI\mergeValues</tspan><tspan x="1680.5" y="54">Trafo</tspan></text></g>
<g id="n_stripSlashesRecursive" class="node"><rect x="1603" y="168" width="155" height="40"/><text x="1680.5"><tspan x="1680.5" y="185">ilArrayUtil\stripSlashes</tspan><tspan x="1680.5" y="200">Recursive</tspan></text></g>
<g id="n_strip" class="node"><rect x="1605" y="1500" width="151" height="26"/><text x="1680.5" y="1518">ILIAS\Repository\strip</text></g>
<g id="n_isArray" class="node"><rect x="1597" y="1560" width="167" height="25"/><text x="1680.5" y="1577">ILIAS\Repository\isArray</text></g>

<g id="n_refinery" class="node"><rect x="1817" y="1282" width="170" height="26"/><text x="1902" y="1300">ILIAS\Repository\refinery</text></g>
<g id="n_stripSlashes" class="node"><rect x="1840" y="1442" width="124" height="26"/><text x="1902" y="1460">ilUtil\stripSlashes</text></g>
<g id="n_http" class="node"><rect x="1828" y="1560" width="149" height="25"/><text x="1902.5" y="1577">ILIAS\Repository\http</text></g>
<g id="n_secureString" class="node"><rect x="2035" y="1442" width="125" height="26"/><text x="2097.5" y="1460">ilUtil\secureString</text></g>
<g id="n_getSecureTags" class="node"><rect x="2222" y="1366" width="140" height="25"/><text x="2292" y="1383">ilUtil\getSecureTags</text></g>
<g id="n_maskSecureTags" class="node"><rect x="2214" y="1416" width="155" height="25"/><text x="2291.5" y="1433">ilUtil\maskSecureTags</text></g>
<g id="n_unmaskSecureTags" class="node"><rect x="2207" y="1466" width="169" height="26"/><text x="2291.5" y="1484">ilUtil\unmaskSecureTags</text></g>
<g id="n_stripScriptHTML" class="node"><rect x="2218" y="1517" width="147" height="26"/><text x="2291.5" y="1535">ilUtil\stripScriptHTML</text></g>
<g id="n_maskAttributeTag" class="node"><rect x="2431" y="1366" width="155" height="25"/><text x="2508.5" y="1383">ilUtil\maskAttributeTag</text></g>
<g id="n_maskTag" class="node"><rect x="2455" y="1416" width="107" height="25"/><text x="2508.5" y="1433">ilUtil\maskTag</text></g>
<g id="n_unmaskAttributeTag" class="node"><rect x="2423" y="1466" width="170" height="26"/><text x="2508" y="1484">ilUtil\unmaskAttributeTag</text></g>
<g id="n_unmaskTag" class="node"><rect x="2448" y="1517" width="121" height="26"/><text x="2508.5" y="1535">ilUtil\unmaskTag</text></g>
<g id="n_secureLink" class="node"><rect x="2641" y="1466" width="115" height="26"/><text x="2698.5" y="1484">ilUtil\secureLink</text></g>
</g>
</svg>
